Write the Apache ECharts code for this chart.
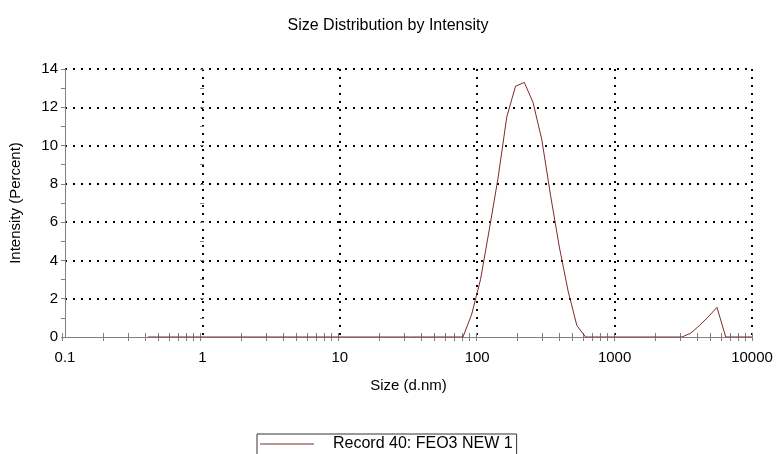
<!DOCTYPE html>
<html>
<head>
<meta charset="utf-8">
<script src="https://cdn.jsdelivr.net/npm/echarts@6/dist/echarts.min.js"></script>
<style>
  html, body { margin: 0; padding: 0; background: #fff; }
  #chart { width: 776px; height: 454px; }
</style>
</head>
<body>
<div id="chart"></div>
<script>
// size bins (d.nm) and intensity (%)
const sizes = [
  0.4, 0.4632, 0.5365, 0.6213, 0.7195, 0.8332, 0.9649, 1.117, 1.294, 1.499,
  1.736, 2.010, 2.328, 2.696, 3.122, 3.615, 4.187, 4.849, 5.615, 6.503,
  7.531, 8.721, 10.10, 11.70, 13.54, 15.69, 18.17, 21.04, 24.36, 28.21,
  32.67, 37.84, 43.82, 50.75, 58.77, 68.06, 78.82, 91.28, 105.7, 122.4,
  141.8, 164.2, 190.1, 220.2, 255.0, 295.3, 342.0, 396.1, 458.7, 531.2,
  615.1, 712.4, 825.0, 955.4, 1106, 1281, 1484, 1718, 1990, 2305,
  2669, 3091, 3580, 4145, 4801, 5560, 6439, 7456, 8635, 10000
];
const intensity = [
  0, 0, 0, 0, 0, 0, 0, 0, 0, 0,
  0, 0, 0, 0, 0, 0, 0, 0, 0, 0,
  0, 0, 0, 0, 0, 0, 0, 0, 0, 0,
  0, 0, 0, 0, 0, 0, 0, 1.2, 3.0, 5.6,
  8.3, 11.5, 13.1, 13.3, 12.25, 10.3, 7.4, 4.7, 2.4, 0.6,
  0, 0, 0, 0, 0, 0, 0, 0, 0, 0,
  0, 0, 0.2, 0.6, 1.05, 1.55, 0, 0, 0, 0
];
const decades = [0.1, 1, 10, 100, 1000];
const steps = [1, 2, 3, 4, 5, 6, 7, 8, 9];
const seriesName = "Record 40: FEO3 NEW 1";

const FONT = "Arial, 'Liberation Sans', sans-serif";
const AXIS_GRAY = "#808080";
const LINE_RED = "#7d2a2a";
const GRID = { left: 62, top: 69, width: 690, height: 268 };

// minor/major tick positions for the log axis, in log10 space (helper axes)
const logTicks = [];
decades.forEach(d => steps.forEach(s => logTicks.push(Math.log10(d * s))));
logTicks.push(4);

const helperX = (gridIndex, inside) => ({
  type: "value", gridIndex, min: -1, max: 4,
  axisLine: { show: false },
  axisLabel: { show: false },
  splitLine: { show: false },
  axisTick: { show: true, inside, length: 4, customValues: logTicks,
    lineStyle: { color: AXIS_GRAY, width: 1 } }
});
const helperY = (gridIndex, show) => ({
  type: "value", gridIndex, min: 0, max: 14, interval: 2,
  axisLine: { show: false },
  axisLabel: { show: false },
  splitLine: { show: false },
  axisTick: { show, inside: true, length: 4, lineStyle: { color: AXIS_GRAY } },
  minorTick: { show, splitNumber: 2, length: 4, lineStyle: { color: AXIS_GRAY } }
});

const chart = echarts.init(document.getElementById("chart"));
chart.setOption({
  animation: false,
  backgroundColor: "#fff",
  title: {
    text: "Size Distribution by Intensity",
    left: "center", top: 13,
    textStyle: { fontFamily: FONT, fontSize: 16, fontWeight: "normal", color: "#000" }
  },
  legend: {
    data: [{ name: seriesName, icon: "rect" }],
    left: 257, top: 434,
    padding: [2, 4, 10, 3],
    itemWidth: 54, itemHeight: 1,
    itemStyle: { color: LINE_RED },
    borderColor: "#333", borderWidth: 1,
    textStyle: { fontFamily: FONT, fontSize: 16, color: "#000", padding: [0, 0, 0, 14] }
  },
  grid: [
    Object.assign({}, GRID),
    Object.assign({}, GRID),
    Object.assign({}, GRID)
  ],
  xAxis: [
    {
      type: "log", logBase: 10, gridIndex: 0, min: 0.1, max: 10000,
      name: "Size (d.nm)", nameLocation: "middle", nameGap: 41,
      nameTextStyle: { fontFamily: FONT, fontSize: 15, color: "#000" },
      axisLine: { show: true, lineStyle: { color: AXIS_GRAY, width: 1 } },
      axisTick: { show: false },
      axisLabel: { fontFamily: FONT, fontSize: 15, color: "#000", margin: 13,
        formatter: v => String(v) },
      splitLine: { show: true, showMinLine: false,
        lineStyle: { color: "#000", width: 2, type: [2, 6] } }
    },
    helperX(1, false),
    helperX(2, true)
  ],
  yAxis: [
    {
      type: "value", gridIndex: 0, min: 0, max: 14, interval: 2,
      name: "Intensity (Percent)", nameLocation: "middle", nameGap: 42,
      nameTextStyle: { fontFamily: FONT, fontSize: 15, color: "#000" },
      axisLine: { show: true, lineStyle: { color: AXIS_GRAY, width: 1 } },
      axisTick: { show: true, length: 4, lineStyle: { color: AXIS_GRAY } },
      minorTick: { show: true, splitNumber: 2, length: 4, lineStyle: { color: AXIS_GRAY } },
      axisLabel: { fontFamily: FONT, fontSize: 15, color: "#000", margin: 7 },
      splitLine: { show: true, showMinLine: false,
        lineStyle: { color: "#000", width: 2, type: [2, 6] } }
    },
    helperY(1, true),
    helperY(2, false)
  ],
  series: [{
    name: seriesName,
    type: "line",
    xAxisIndex: 0, yAxisIndex: 0,
    data: sizes.map((s, i) => [s, intensity[i]]),
    symbol: "none",
    lineStyle: { color: LINE_RED, width: 1 },
    itemStyle: { color: LINE_RED },
    z: 5
  }]
});
</script>
</body>
</html>
